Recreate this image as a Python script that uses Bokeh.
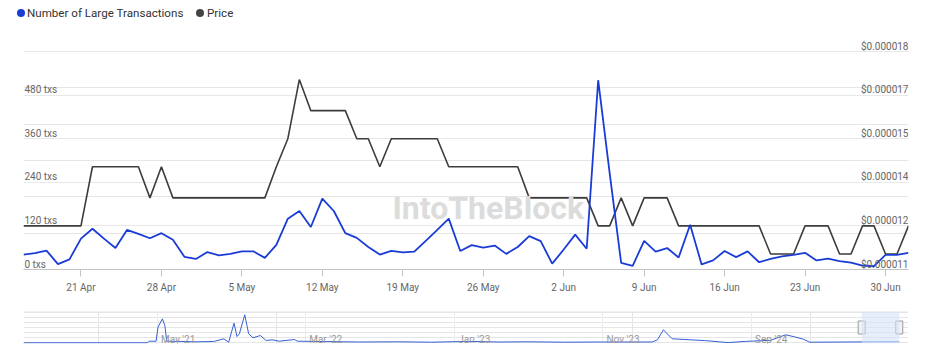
import pandas as pd
from bokeh.plotting import figure
from bokeh.models import (Range1d, FixedTicker, Label, LabelSet, Div,
                          BoxAnnotation, Grid, Span, ColumnDataSource)
from bokeh.layouts import column
from bokeh.core.properties import value
from bokeh.embed import file_html
from bokeh.resources import INLINE

FONT = "Roboto"
BLUE = "#1a3cd6"
DARK = "#3d3d3d"
DOT_DARK = "#444444"

# ---------------- data ----------------
start_date = "2025-04-16"
n_days = 78

txs = [41, 45, 52, 15, 28, 85, 112, 85, 59, 109, 98, 86, 100, 82, 35, 29, 48, 39, 43, 50,
       50, 32, 68, 140, 161, 117, 195, 161, 100, 87, 62, 41, 51, 47, 49, 79, 109, 140, 51, 67,
       60, 66, 43, 62, 92, 78, 16, 55, 96, 57, 521, 265, 18, 10, 79, 49, 59, 33, 123, 14,
       25, 51, 34, 50, 20, 29, 36, 40, 46, 25, 30, 23, 19, 11, 9, 40, 40, 46]

price = [1.24e-5, 1.24e-5, 1.24e-5, 1.24e-5, 1.24e-5, 1.24e-5,
         1.43e-5, 1.43e-5, 1.43e-5, 1.43e-5, 1.43e-5,
         1.33e-5, 1.43e-5,
         1.33e-5, 1.33e-5, 1.33e-5, 1.33e-5, 1.33e-5, 1.33e-5, 1.33e-5, 1.33e-5, 1.33e-5,
         1.43e-5, 1.52e-5, 1.71e-5,
         1.61e-5, 1.61e-5, 1.61e-5, 1.61e-5,
         1.52e-5, 1.52e-5, 1.43e-5,
         1.52e-5, 1.52e-5, 1.52e-5, 1.52e-5, 1.52e-5,
         1.43e-5, 1.43e-5, 1.43e-5, 1.43e-5, 1.43e-5, 1.43e-5, 1.43e-5,
         1.33e-5, 1.33e-5, 1.33e-5, 1.33e-5, 1.33e-5, 1.33e-5,
         1.24e-5, 1.24e-5, 1.33e-5, 1.24e-5,
         1.33e-5, 1.33e-5, 1.33e-5,
         1.24e-5, 1.24e-5, 1.24e-5, 1.24e-5, 1.24e-5, 1.24e-5, 1.24e-5, 1.24e-5,
         1.15e-5, 1.15e-5, 1.15e-5,
         1.24e-5, 1.24e-5, 1.24e-5,
         1.15e-5, 1.15e-5, 1.24e-5, 1.24e-5, 1.15e-5, 1.15e-5, 1.24e-5]

left_ticks = [0, 120, 240, 360, 480]
left_labels = ["0 txs", "120 txs", "240 txs", "360 txs", "480 txs"]
grid_ticks = [0, 120, 240, 360, 480, 600]

price_ticks = [0.0000110, 0.0000124, 0.0000138, 0.0000152, 0.0000166, 0.0000180]
price_labels = ["$0.000011", "$0.000012", "$0.000014", "$0.000015", "$0.000017", "$0.000018"]

x_tick_dates = ["2025-04-21", "2025-04-28", "2025-05-05", "2025-05-12", "2025-05-19",
                "2025-05-26", "2025-06-02", "2025-06-09", "2025-06-16", "2025-06-23",
                "2025-06-30"]
x_tick_labels = ["21 Apr", "28 Apr", "5 May", "12 May", "19 May", "26 May",
                 "2 Jun", "9 Jun", "16 Jun", "23 Jun", "30 Jun"]

series_names = ["Number of Large Transactions", "Price"]

nav_dates = ["2020-07-31", "2021-04-11", "2021-04-15", "2021-04-29", "2021-05-03",
             "2021-05-12", "2021-05-17", "2021-05-21", "2021-06-15", "2021-07-20",
             "2021-08-25", "2021-09-15", "2021-09-25", "2021-10-06", "2021-10-12",
             "2021-10-17", "2021-10-28", "2021-11-05", "2021-11-14", "2021-11-29",
             "2021-12-11", "2021-12-23", "2022-01-07", "2022-02-07", "2022-02-13",
             "2022-04-19", "2022-06-20", "2022-09-09", "2022-11-15", "2023-01-30",
             "2023-04-01", "2023-06-01", "2023-08-15", "2023-10-22", "2024-02-11",
             "2024-02-22", "2024-03-05", "2024-03-23", "2024-05-29", "2024-07-16",
             "2024-08-20", "2024-10-11", "2024-11-11", "2024-11-29", "2024-12-18",
             "2024-12-30", "2025-03-15", "2025-05-16", "2025-07-02"]
nav_values = [0, 0, 64, 64, 624,
              960, 692, 64, 56, 40,
              52, 160, 24, 784, 252,
              360, 1120, 360, 200, 292,
              92, 120, 64, 132, 64,
              48, 32, 40, 24, 56,
              32, 40, 24, 32, 32,
              120, 520, 160, 88, 8,
              56, 100, 320, 240, 140,
              24, 32, 40, 40]
nav_tick_dates = ["2021-05-01", "2022-03-01", "2023-01-01", "2023-11-01", "2024-09-01"]
nav_tick_labels = ["May '21", "Mar '22", "Jan '23", "Nov '23", "Sep '24"]
nav_start, nav_end = "2020-07-31", "2025-07-21"


def ms(d):
    return pd.Timestamp(d).value // 10**6


dates = pd.date_range(start_date, periods=n_days, freq="D")
src = ColumnDataSource(dict(date=dates, txs=txs, price=price))

W = 931
LEG_H = 28            # legend strip height
GRID_H = 218          # pixel height between 0 and the top grid line
FRAME_H = 241         # main frame height (from below the legend strip to the x axis)
ext = FRAME_H / GRID_H

# ---------------- legend strip (HTML text) ----------------
dot = ("position:absolute;top:9px;width:8px;height:8px;border-radius:50%;"
       "background:{c};left:{x}px;")
lab = "position:absolute;top:6px;white-space:nowrap;left:{x}px;"
legend_html = (
    f'<div style="position:relative;width:{W}px;height:{LEG_H}px;font-family:{FONT};'
    'font-size:11.6px;line-height:14px;color:#333333;">'
    f'<span style="{dot.format(c=BLUE, x=16.5)}"></span>'
    f'<span style="{lab.format(x=27)}">{series_names[0]}</span>'
    f'<span style="{dot.format(c=DOT_DARK, x=196)}"></span>'
    f'<span style="{lab.format(x=207)}">{series_names[1]}</span>'
    '</div>')
leg = Div(text=legend_html, width=W, height=LEG_H, margin=0)

# ---------------- main chart ----------------
p = figure(width=W, height=FRAME_H + 31, x_axis_type="datetime", y_axis_location=None,
           x_range=Range1d(ms(dates[0]), ms(dates[-1])),
           y_range=Range1d(0, grid_ticks[-1] * ext),
           output_backend="svg", toolbar_location=None,
           min_border_left=23, min_border_right=23, min_border_top=0, min_border_bottom=31)
p.outline_line_color = None
p.background_fill_color = "white"
p.xgrid.visible = False
p.extra_y_ranges = {"price": Range1d(price_ticks[0],
                                     price_ticks[0] + (price_ticks[-1] - price_ticks[0]) * ext)}

p.add_layout(Grid(dimension=1, ticker=FixedTicker(ticks=grid_ticks),
                  grid_line_color="#e8e8e8", grid_line_width=1))

xa = p.xaxis[0]
xa.ticker = FixedTicker(ticks=[ms(d) for d in x_tick_dates])
xa.major_label_overrides = {ms(d): lab for d, lab in zip(x_tick_dates, x_tick_labels)}
xa.axis_line_color = "#c4c4c4"
xa.major_tick_line_color = "#c4c4c4"
xa.major_tick_out = 7
xa.major_tick_in = 0
xa.minor_tick_out = 0
xa.minor_tick_in = 0
xa.major_label_standoff = 5
xa.major_label_text_font = FONT
xa.major_label_text_font_size = "10px"
xa.major_label_text_color = "#666666"

p.line("date", "price", source=src, y_range_name="price", line_color=DARK, line_width=1.6,
       legend_label=None) if False else None
p.line("date", "price", source=src, y_range_name="price", line_color=DARK, line_width=1.6)
p.line("date", "txs", source=src, line_color=BLUE, line_width=1.8)

# axis labels drawn inside the plot area, above their grid lines
left_src = ColumnDataSource(dict(x=[ms(dates[0])] * len(left_ticks), y=left_ticks,
                                 t=left_labels))
p.add_layout(LabelSet(x="x", y="y", text="t", source=left_src, x_offset=1, y_offset=2,
                      text_baseline="alphabetic", text_align="left", text_font=value(FONT),
                      text_font_size="10px", text_color="#666666"))
right_src = ColumnDataSource(dict(x=[ms(dates[-1])] * len(price_ticks), y=price_ticks,
                                  t=price_labels))
p.add_layout(LabelSet(x="x", y="y", text="t", source=right_src, y_range_name="price",
                      x_offset=0, y_offset=2, text_baseline="alphabetic",
                      text_align="right", text_font=value(FONT), text_font_size="10px",
                      text_color="#666666"))

# watermark
p.add_layout(Label(x=369, y=62, x_units="screen", y_units="screen", text="IntoTheBlock",
                   text_font=FONT, text_font_size="32px", text_font_style="bold",
                   text_color="#dcdcdc", text_baseline="alphabetic"))

# ---------------- navigator ----------------
nav = figure(width=W, height=48, x_axis_type="datetime", x_axis_location=None,
             y_axis_location=None, x_range=Range1d(ms(nav_start), ms(nav_end)),
             y_range=Range1d(-28, 1252), output_backend="svg", toolbar_location=None,
             min_border_left=23, min_border_right=20, min_border_top=11, min_border_bottom=5)
nav.outline_line_color = None
nav.add_layout(Grid(dimension=0, ticker=FixedTicker(ticks=[ms(d) for d in nav_tick_dates]),
                    grid_line_color="#ececec"))
nav.add_layout(Span(location=nav.y_range.end, dimension="width", line_color="#e6e6e6",
                    line_width=1))
nav.add_layout(BoxAnnotation(left=ms(dates[0]), right=ms(dates[-1]),
                             fill_color="#d6e2fa", fill_alpha=0.6, line_color=None))
nav.line(x=[pd.Timestamp(d) for d in nav_dates], y=nav_values, line_color="#3560d4",
         line_width=1)
nav.text(x=[ms(d) for d in nav_tick_dates], y=[nav.y_range.start] * len(nav_tick_dates),
         text=nav_tick_labels, x_offset=4, y_offset=-4, text_baseline="alphabetic",
         text_font=value(FONT), text_font_size="10px", text_color="#999999")
mid = (nav.y_range.start + nav.y_range.end) / 2
nav.rect(x=[ms(dates[0]), ms(dates[-1])], y=[mid, mid], width=7, height=13,
         width_units="screen", height_units="screen", fill_color="#f2f2f2",
         line_color="#999999", line_width=1)

layout = column(leg, p, nav)
open("out.html", "w").write(file_html(layout, INLINE))
